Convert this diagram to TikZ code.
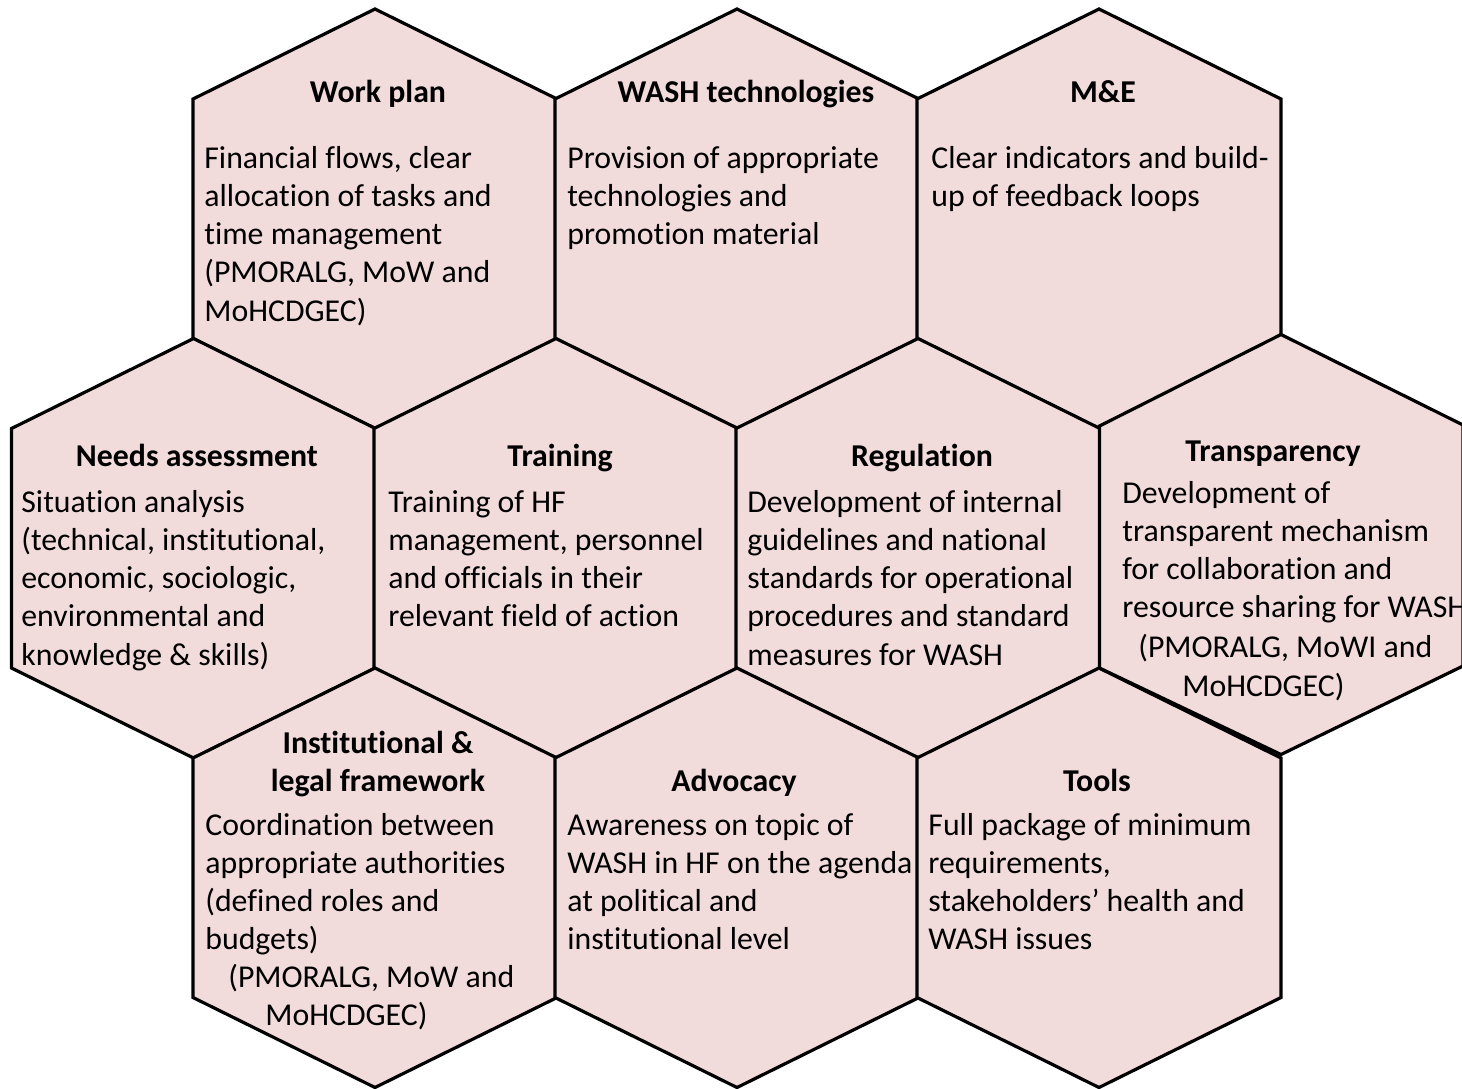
\documentclass[tikz,border=0pt]{standalone}
\usepackage{fontspec}
\setmainfont{Carlito}[Ligatures=CommonOff]
\definecolor{hexfill}{HTML}{F2DCDB}

% one text line per node, baselines 38.3 units apart
\newcommand\txtlines[4]{%
  \foreach \ln [count=\k] in {#4} {
    \node[bodytxt, name=#1-\k] at (#2, {#3+38.3*(\k-1)}) {\ln};
  }%
}
% pointy-top hexagon: centre x, top y
\newcommand\hexpath[2]{%
  (#1,#2) -- ++(182,90) -- ++(0,239.5) -- ++(-182,90) -- ++(-182,-90) -- ++(0,-239.5) -- cycle}

\begin{document}
\begin{tikzpicture}[x=0.5pt,y=-0.5pt,
  hexbox/.style={fill=hexfill,draw=black,line width=1.6pt,line join=miter},
  bodytxt/.style={anchor=base west,inner sep=0pt,font=\fontsize{15.9}{19}\selectfont},
  titletxt/.style={anchor=base,inner sep=0pt,font=\fontsize{15.9}{19}\selectfont\bfseries}]
\useasboundingbox (0,0) rectangle (1462,1088);
\clip (0,0) rectangle (1462,1088);

% honeycomb cells
\foreach \cx/\ty in {375/9,737/9,1099/9,
                     193.5/338.5,556/338.5,918/338.5,
                     375/668,737/668,1099/668}{
  \path[hexbox] \hexpath{\cx}{\ty};
}
\path[hexbox] (1281,334.5) -- (1463,425) -- (1463,666) -- (1281,754.5)
  -- (1099.5,668) -- (1099.5,426) -- cycle;

% Work plan
\node[titletxt] (wp) at (378,102) {Work plan};
\txtlines{wpb}{204}{168}{{Financial flows, clear},{allocation of tasks and},{time management},{(PMORALG, MoW and},{MoHCDGEC)}}

% WASH technologies
\node[titletxt] (wt) at (746,102) {WASH technologies};
\txtlines{wtb}{567}{168}{{Provision of appropriate},{technologies and},{promotion material}}

% M&E
\node[titletxt] (me) at (1103,102) {M\&E};
\txtlines{meb}{931}{168}{{Clear indicators and build-},{up of feedback loops}}

% Needs assessment
\node[titletxt] (na) at (197,466) {Needs assessment};
\txtlines{nab}{21}{512}{{Situation analysis},{(technical, institutional,},{economic, sociologic,},{environmental and},{knowledge \& skills)}}

% Training
\node[titletxt] (tr) at (560,466) {Training};
\txtlines{trb}{388}{512}{{Training of HF},{management, personnel},{and officials in their},{relevant field of action}}

% Regulation
\node[titletxt] (rg) at (922,466) {Regulation};
\txtlines{rgb}{747}{512}{{Development of internal},{guidelines and national},{standards for operational},{procedures and standard},{measures for WASH}}

% Transparency
\node[titletxt] (tp) at (1273,461) {Transparency};
\txtlines{tpb}{1122}{503}{{Development of},{transparent mechanism},{for collaboration and},{resource sharing for WASH}}
\node[bodytxt] (tp5) at (1138,657) {(PMORALG, MoWI and};
\node[bodytxt] (tp6) at (1182,696) {MoHCDGEC)};

% Institutional & legal framework
\node[titletxt] (il1) at (378,753) {Institutional \&};
\node[titletxt] (il2) at (378,791) {legal framework};
\txtlines{ilb}{205}{835}{{Coordination between},{appropriate authorities},{(defined roles and},{budgets)}}
\node[bodytxt] (il5) at (228,987) {(PMORALG, MoW and};
\node[bodytxt] (il6) at (265,1025) {MoHCDGEC)};

% Advocacy
\node[titletxt] (ad) at (734,791) {Advocacy};
\txtlines{adb}{567}{835}{{Awareness on topic of},{WASH in HF on the agenda},{at political and},{institutional level}}

% Tools
\node[titletxt] (tl) at (1097,791) {Tools};
\txtlines{tlb}{928}{835}{{Full package of minimum},{requirements,},{stakeholders’ health and},{WASH issues}}
\end{tikzpicture}
\end{document}
